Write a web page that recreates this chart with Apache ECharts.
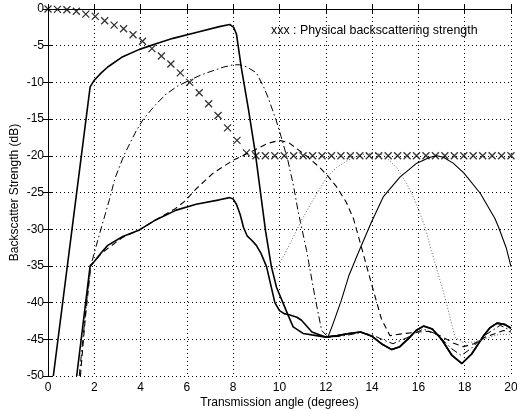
<!DOCTYPE html>
<html>
<head>
<meta charset="utf-8">
<script src="https://cdn.jsdelivr.net/npm/echarts@6/dist/echarts.min.js"></script>
<style>html,body{margin:0;padding:0;background:#fff;}#c{width:517px;height:411px;}</style>
</head>
<body>
<div id="c"></div>
<script>
// ---- data ----
const xTicks = [0, 2, 4, 6, 8, 10, 12, 14, 16, 18, 20];
const yTicks = [0, -5, -10, -15, -20, -25, -30, -35, -40, -45, -50];

// physical backscattering strength (crosses), 50 points evenly spaced 0..20
const physX = [0,0.408,0.816,1.224,1.633,2.041,2.449,2.857,3.265,3.673,4.082,4.490,4.898,5.306,5.714,6.122,6.531,6.939,7.347,7.755,8.163,8.571,8.980,9.388,9.796,10.204,10.612,11.020,11.429,11.837,12.245,12.653,13.061,13.469,13.878,14.286,14.694,15.102,15.510,15.918,16.327,16.735,17.143,17.551,17.959,18.367,18.776,19.184,19.592,20];
const physY = [0,-0.05,-0.1,-0.3,-0.7,-1.0,-1.6,-2.2,-2.7,-3.5,-4.4,-5.4,-6.4,-7.5,-8.7,-10.0,-11.4,-12.9,-14.5,-16.2,-17.9,-19.6,-20,-20,-20,-20,-20,-20,-20,-20,-20,-20,-20,-20,-20,-20,-20,-20,-20,-20,-20,-20,-20,-20,-20,-20,-20,-20,-20,-20];

// thick solid, upper
const solidUpper = [[0.23,-50],[1.82,-10.6],[2.0,-9.7],[2.3,-8.7],[2.58,-7.9],[3.23,-6.5],[3.95,-5.5],[4.7,-4.7],[5.4,-4.0],[6.4,-3.2],[7.4,-2.4],[7.85,-2.1],[8.02,-2.5],[8.14,-3.4],[8.35,-8.0],[8.65,-13.5],[8.95,-19.5],[9.2,-25.5],[9.4,-30.3],[9.65,-35.1],[9.87,-37.9],[10.16,-40.1],[10.37,-41.7],[10.59,-43.3],[11.02,-44.2],[11.4,-44.4],[11.8,-44.6],[12.0,-44.7],[12.5,-44.5],[13.0,-44.2],[13.5,-44.0],[14.0,-44.6],[14.4,-45.6],[14.85,-46.4],[15.2,-46.0],[15.6,-44.8],[15.9,-43.8],[16.22,-43.2],[16.6,-43.6],[17.0,-45.0],[17.45,-47.2],[17.88,-48.3],[18.3,-47.0],[18.8,-44.6],[19.1,-43.4],[19.4,-42.8],[19.75,-43.0],[20,-43.5]];

// thick solid, lower
const solidLower = [[1.24,-50],[1.82,-35.0],[2.0,-34.4],[2.3,-33.2],[2.58,-32.2],[3.23,-31.0],[3.95,-30.1],[4.67,-28.7],[5.54,-27.4],[6.4,-26.6],[7.4,-26.0],[7.85,-25.7],[8.0,-25.9],[8.14,-26.6],[8.3,-28.0],[8.45,-29.8],[8.6,-30.9],[8.8,-31.5],[9.0,-32.2],[9.2,-33.3],[9.44,-35.1],[9.8,-40.0],[10.0,-41.1],[10.2,-41.5],[10.45,-41.7],[10.75,-42.0],[10.95,-42.4],[11.2,-43.3],[11.4,-44.0],[11.9,-44.6],[12.0,-44.7],[12.5,-44.5],[13.0,-44.2],[13.5,-44.0],[14.0,-44.6],[14.4,-45.6],[14.85,-46.4],[15.2,-46.0],[15.6,-44.8],[15.9,-43.8],[16.22,-43.2],[16.6,-43.6],[17.0,-45.0],[17.45,-47.2],[17.88,-48.3],[18.3,-47.0],[18.8,-44.6],[19.1,-43.4],[19.4,-42.8],[19.75,-43.0],[20,-43.5]];

// dash-dot
const dashDot = [[1.35,-50],[1.6,-42],[1.82,-35.3],[2.15,-31.5],[2.65,-26],[2.9,-23],[3.3,-19.8],[3.81,-16.6],[4.1,-15.1],[4.6,-13.2],[5.1,-11.6],[5.6,-10.5],[6.12,-9.7],[6.6,-9.0],[7.13,-8.4],[7.6,-7.9],[8.0,-7.6],[8.28,-7.6],[8.6,-7.9],[9.0,-8.7],[9.3,-10.5],[9.5,-12.0],[9.85,-15.1],[10.07,-17.4],[10.36,-20.6],[10.6,-24.0],[10.8,-27.5],[11.17,-32.9],[11.53,-39.2],[11.82,-43.8],[12.1,-44.7],[12.6,-44.6],[13.0,-44.4],[13.5,-44.1],[14.0,-44.4],[14.5,-45.1],[14.9,-45.6],[15.5,-44.8],[16.2,-43.6],[16.8,-44.3],[17.4,-46.2],[17.85,-47.2],[18.3,-46.2],[18.8,-44.6],[19.53,-43.1],[20,-43.8]];

// dashed
const dashed = [[1.4,-50],[1.6,-42.5],[1.85,-35],[2.3,-33.3],[3.23,-31.1],[3.95,-30.1],[4.67,-28.7],[5.5,-27.2],[5.9,-26.2],[6.4,-24.5],[7.12,-22.4],[8.0,-20.6],[8.93,-19.2],[9.5,-18.3],[10.0,-17.9],[10.4,-18.2],[10.73,-19.0],[11.2,-20.1],[11.74,-21.6],[12.1,-22.8],[12.46,-24.2],[12.88,-26.3],[13.2,-28.6],[13.5,-32.0],[13.97,-37.4],[14.4,-42.2],[14.77,-44.5],[15.2,-44.3],[15.7,-44.1],[16.43,-43.9],[17.0,-44.6],[17.5,-45.5],[17.95,-46.0],[18.4,-45.6],[18.9,-44.7],[19.68,-43.8],[20,-44.0]];

// dotted
const dotted = [[9.65,-35.6],[9.94,-35.1],[10.45,-32.0],[10.95,-28.8],[11.45,-26.0],[12.06,-22.8],[12.5,-21.5],[12.96,-20.6],[13.4,-20.0],[13.8,-19.7],[14.2,-19.7],[14.5,-19.9],[15.06,-21.6],[15.5,-23.8],[15.84,-26.0],[16.29,-29.7],[16.56,-32.9],[17.14,-39.2],[17.58,-44.7],[17.9,-45.4],[18.4,-45.4],[18.9,-44.9],[19.5,-44.3],[20,-44.4]];

// thin solid
const thinSolid = [[11.9,-44.6],[12.09,-44.7],[12.3,-43.0],[12.67,-39.7],[13.0,-36.3],[13.39,-33.3],[13.95,-29.2],[14.48,-25.6],[15.2,-22.9],[15.93,-21.0],[16.5,-20.2],[16.8,-20.0],[17.08,-20.2],[17.5,-21.0],[17.95,-22.3],[18.67,-25.1],[19.3,-28.5],[19.46,-29.7],[19.8,-32.6],[20,-35.1]];

const legendText = 'xxx : Physical backscattering strength';

// ---- chart ----
const FONT = 'Liberation Sans, Arial, Helvetica, sans-serif';
const chart = echarts.init(document.getElementById('c'), null, {renderer: 'canvas'});
const tickStyle = {show: true, inside: true, length: 5, lineStyle: {color: '#000', width: 1}};
const axLine = {show: true, lineStyle: {color: '#000', width: 1}};
const labelStyle = {color: '#000', fontFamily: FONT, fontSize: 12};
const lineS = (d, type, w, color) => ({
  type: 'line', data: d, showSymbol: false, symbol: 'none', smooth: false,
  lineStyle: {color: color || '#000', width: w, type: type}, z: 3, animation: false, silent: true
});
chart.setOption({
  animation: false,
  backgroundColor: '#fff',
  grid: {left: 48, right: 6, top: 9, bottom: 35, containLabel: false, outerBoundsMode: 'none'},
  xAxis: [{
    type: 'value', min: xTicks[0], max: xTicks[xTicks.length - 1], interval: 2, position: 'bottom',
    axisLine: axLine, axisTick: tickStyle,
    axisLabel: Object.assign({margin: 6, formatter: v => String(v)}, labelStyle),
    splitLine: {show: true, lineStyle: {color: '#000', width: 1, type: [1, 3]}},
    name: 'Transmission angle (degrees)', nameLocation: 'middle', nameGap: 21, nameMoveOverlap: false,
    nameTextStyle: {color: '#000', fontFamily: FONT, fontSize: 12}
  }, {
    type: 'value', min: 0, max: 20, interval: 2, position: 'top',
    axisLine: axLine, axisTick: tickStyle, axisLabel: {show: false}, splitLine: {show: false}
  }],
  yAxis: [{
    type: 'value', min: yTicks[yTicks.length - 1], max: yTicks[0], interval: 5, position: 'left',
    axisLine: axLine, axisTick: tickStyle,
    axisLabel: Object.assign({margin: 4, formatter: v => String(v)}, labelStyle),
    splitLine: {show: true, lineStyle: {color: '#000', width: 1, type: [1, 3]}},
    name: 'Backscatter Strength (dB)', nameLocation: 'middle', nameGap: 27, nameMoveOverlap: false,
    nameTextStyle: {color: '#000', fontFamily: FONT, fontSize: 12}
  }, {
    type: 'value', min: -50, max: 0, interval: 5, position: 'right',
    axisLine: axLine, axisTick: tickStyle, axisLabel: {show: false}, splitLine: {show: false}
  }],
  graphic: [{
    type: 'text', left: 271, top: 25,
    style: {text: legendText, fill: '#000', font: '12.4px ' + FONT}
  }],
  series: [
    lineS(solidUpper, 'solid', 1.6),
    lineS(solidLower, 'solid', 1.6),
    lineS(dashDot, [7, 3, 1.5, 3], 1),
    lineS(dashed, [6, 4], 1.1),
    lineS(dotted, [1, 2], 1, '#666'),
    lineS(thinSolid, 'solid', 1.1),
    {
      type: 'scatter', data: physX.map((x, i) => [x, physY[i]]),
      symbol: 'path://M0,0L10,10M10,0L0,10', symbolSize: 7,
      itemStyle: {color: 'rgba(0,0,0,0)', borderColor: '#000', borderWidth: 1.3},
      z: 4, silent: true, animation: false
    }
  ]
});
</script>
</body>
</html>
